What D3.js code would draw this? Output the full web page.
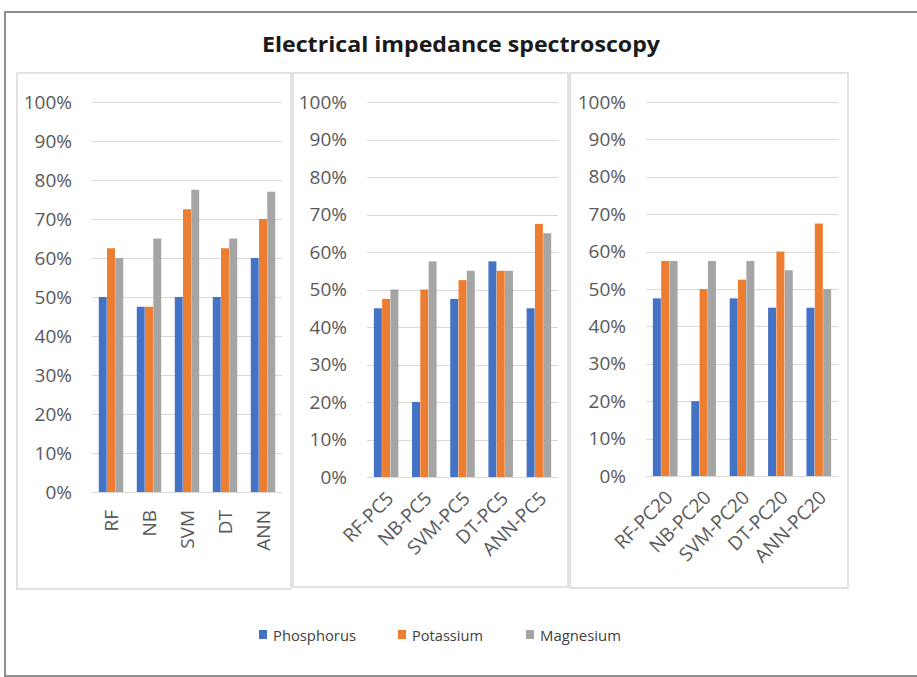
<!DOCTYPE html>
<html>
<head>
<meta charset="utf-8">
<script src="https://cdn.jsdelivr.net/npm/d3@7"></script>
<style>
  html, body { margin: 0; padding: 0; background: #fff; }
  svg { display: block; }
</style>
</head>
<body>
<svg id="chart" width="917" height="677"></svg>
<script>
// ---- data ----
const title = "Electrical impedance spectroscopy";
const seriesNames = ["Phosphorus", "Potassium", "Magnesium"];
const seriesColors = ["#4472C4", "#ED7D31", "#A5A5A5"];
const yTicks = [0, 0.1, 0.2, 0.3, 0.4, 0.5, 0.6, 0.7, 0.8, 0.9, 1.0];

const categories1 = ["RF", "NB", "SVM", "DT", "ANN"];
const phosphorus1 = [0.50, 0.475, 0.50, 0.50, 0.60];
const potassium1  = [0.625, 0.475, 0.725, 0.625, 0.70];
const magnesium1  = [0.60, 0.65, 0.775, 0.65, 0.77];

const categories2 = ["RF-PC5", "NB-PC5", "SVM-PC5", "DT-PC5", "ANN-PC5"];
const phosphorus2 = [0.45, 0.20, 0.475, 0.575, 0.45];
const potassium2  = [0.475, 0.50, 0.525, 0.55, 0.675];
const magnesium2  = [0.50, 0.575, 0.55, 0.55, 0.65];

const categories3 = ["RF-PC20", "NB-PC20", "SVM-PC20", "DT-PC20", "ANN-PC20"];
const phosphorus3 = [0.475, 0.20, 0.475, 0.45, 0.45];
const potassium3  = [0.575, 0.50, 0.525, 0.60, 0.675];
const magnesium3  = [0.575, 0.575, 0.575, 0.55, 0.50];

// ---- layout ----
const svg = d3.select("#chart");
const FONT = "'Open Sans', 'Noto Sans', sans-serif";

// outer frame
svg.append("rect").attr("x", 5).attr("y", 12).attr("width", 930).attr("height", 664)
  .attr("fill", "#fff").attr("stroke", "#8f8f8f").attr("stroke-width", 2);

// title
svg.append("text").attr("x", 461).attr("y", 52).attr("text-anchor", "middle")
  .attr("font-family", FONT).attr("font-weight", "bold").attr("font-size", 22)
  .attr("fill", "#1a1a1a")
  .attr("textLength", 398).attr("lengthAdjust", "spacingAndGlyphs")
  .text(title);

const panels = [
  { box: [17, 73, 274, 516], plot: [92, 282, 102, 492], cats: categories1,
    vals: [phosphorus1, potassium1, magnesium1], rot: -90, lab: [0, 18] },
  { box: [293, 73, 275, 514], plot: [367, 558, 102, 477], cats: categories2,
    vals: [phosphorus2, potassium2, magnesium2], rot: -45, lab: [4, 18] },
  { box: [570, 73, 278, 515], plot: [646, 838, 102, 476], cats: categories3,
    vals: [phosphorus3, potassium3, magnesium3], rot: -45, lab: [4, 18] }
];

panels.forEach(p => {
  const [bx, by, bw, bh] = p.box;
  svg.append("rect").attr("x", bx).attr("y", by).attr("width", bw).attr("height", bh)
    .attr("fill", "#fff").attr("stroke", "#d9d9d9").attr("stroke-width", 1.5);

  const [x0, x1, yTop, yBot] = p.plot;
  const y = d3.scaleLinear().domain([0, 1]).range([yBot, yTop]);
  const x = d3.scaleBand().domain(p.cats).range([x0, x1]).paddingInner(0.34).paddingOuter(0.17);
  const xs = d3.scaleBand().domain(d3.range(seriesNames.length)).range([0, x.bandwidth()]).padding(0.04);

  const g = svg.append("g");

  // gridlines
  g.selectAll("line.grid").data(yTicks).join("line")
    .attr("x1", x0).attr("x2", x1)
    .attr("y1", d => Math.round(y(d)) + 0.5).attr("y2", d => Math.round(y(d)) + 0.5)
    .attr("stroke", "#d9d9d9").attr("stroke-width", 1);

  // y tick labels
  g.selectAll("text.ytick").data(yTicks).join("text")
    .attr("x", x0 - 20).attr("y", d => y(d)).attr("dy", "0.35em")
    .attr("text-anchor", "end").attr("font-family", FONT).attr("font-size", 19)
    .attr("fill", "#595959")
    .text(d => d3.format(".0%")(d));

  // bars
  p.cats.forEach((c, i) => {
    p.vals.forEach((arr, s) => {
      g.append("rect")
        .attr("x", x(c) + xs(s)).attr("width", xs.bandwidth())
        .attr("y", y(arr[i])).attr("height", y(0) - y(arr[i]))
        .attr("fill", seriesColors[s]);
    });
  });

  // category labels
  g.selectAll("text.xcat").data(p.cats).join("text")
    .attr("transform", d => `translate(${x(d) + x.bandwidth() / 2 + p.lab[0]},${yBot + p.lab[1]}) rotate(${p.rot})`)
    .attr("dy", "0.35em").attr("text-anchor", "end")
    .attr("font-family", FONT).attr("font-size", 19).attr("fill", "#595959")
    .text(d => d);
});

// legend
const legendX = [259, 398, 526];
const legendW = [83, 71, 81];
seriesNames.forEach((n, i) => {
  svg.append("rect").attr("x", legendX[i]).attr("y", 630).attr("width", 8).attr("height", 9)
    .attr("fill", seriesColors[i]);
  svg.append("text").attr("x", legendX[i] + 14).attr("y", 641)
    .attr("font-family", FONT).attr("font-size", 15).attr("fill", "#404040")
    .attr("textLength", legendW[i]).attr("lengthAdjust", "spacingAndGlyphs")
    .text(n);
});
</script>
</body>
</html>
